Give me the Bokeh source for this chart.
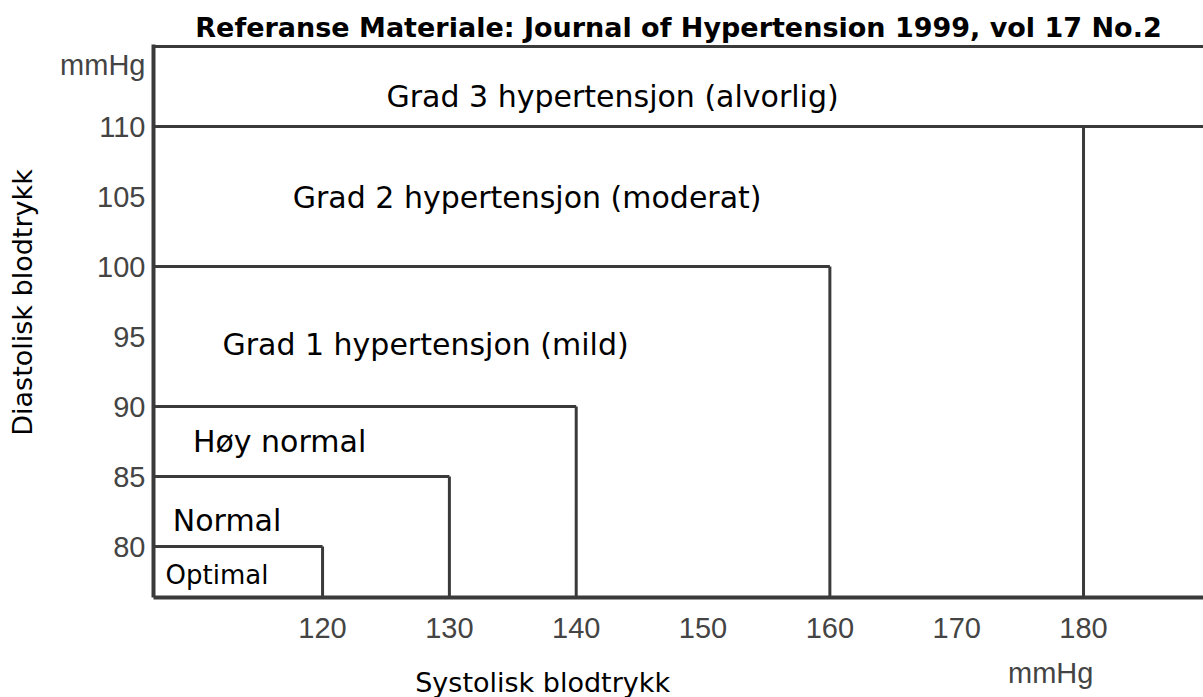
import math
from bokeh.plotting import figure
from bokeh.layouts import column, row
from bokeh.models import ColumnDataSource, FixedTicker, Span, Range1d
from bokeh.core.properties import value
from bokeh.embed import file_html
from bokeh.resources import INLINE

# ---------------- data ----------------
title_text = "Referanse Materiale: Journal of Hypertension 1999, vol 17 No.2"
categories = ["Optimal", "Normal", "Høy normal",
              "Grad 1 hypertensjon (mild)",
              "Grad 2 hypertensjon (moderat)",
              "Grad 3 hypertensjon (alvorlig)"]
systolic_upper = [120, 130, 140, 160, 180]
diastolic_upper = [80, 85, 90, 100, 110]
x_ticks = [120, 130, 140, 150, 160, 170, 180]
y_ticks = [80, 85, 90, 95, 100, 105, 110]
x_label = "Systolisk blodtrykk"
y_label = "Diastolisk blodtrykk"
unit = "mmHg"

# ---------------- layout ----------------
W, H = 1203, 697
LEFT_STRIP = 44
BOTTOM_STRIP = 45
FRAME_LEFT, FRAME_TOP, FRAME_BOTTOM = 153, 44, 597
X0, X1 = 106.67, 189.46
Y0, Y1 = 76.36, 115.857
TOP_BORDER = 115.714
label_x = [111.68, 112.47, 116.61, 128.12, 136.13, 142.87]
label_y = [78.0, 81.86, 87.5, 94.43, 104.93, 112.14]
label_size = ["26px", "30px", "30px", "30px", "30px", "30px"]
UNIT_TICK = 114.36
XLABEL_POS = (137.35, 682)
XUNIT_POS = (177.41, 672)
YLABEL_POS = (22, 97.43)
LINE = "#3a3a3a"
TICK_COLOR = "#444444"
COMIC = "DejaVu Sans"


def clean(fig):
    fig.outline_line_color = None
    fig.background_fill_color = "white"
    fig.border_fill_color = "white"
    fig.xgrid.visible = False
    fig.ygrid.visible = False


x_range = Range1d(X0, X1)
y_range = Range1d(Y0, Y1)

p = figure(width=W - LEFT_STRIP, height=H - BOTTOM_STRIP, output_backend="svg",
           toolbar_location=None, x_range=x_range, y_range=y_range,
           min_border_left=FRAME_LEFT - LEFT_STRIP, min_border_right=0,
           min_border_top=FRAME_TOP, min_border_bottom=H - BOTTOM_STRIP - FRAME_BOTTOM)
clean(p)

p.title.text = title_text
p.title.text_font = COMIC
p.title.text_font_style = "bold"
p.title.text_font_size = "27px"
p.title.align = "center"
p.title.text_color = "black"
p.title.standoff = 4

# axes
xa = p.xaxis[0]
xa.ticker = FixedTicker(ticks=x_ticks)
xa.axis_line_width = 4
xa.axis_line_color = LINE
xa.major_tick_line_color = None
xa.minor_tick_line_color = None
xa.major_label_text_font = "Liberation Sans"
xa.major_label_text_font_size = "29px"
xa.major_label_text_color = TICK_COLOR
xa.major_label_standoff = 14

ya = p.yaxis[0]
ya.ticker = FixedTicker(ticks=y_ticks + [UNIT_TICK])
ya.major_label_overrides = {UNIT_TICK: unit}
ya.axis_line_width = 4
ya.axis_line_color = LINE
ya.major_tick_line_color = None
ya.minor_tick_line_color = None
ya.major_label_text_font = "Liberation Sans"
ya.major_label_text_font_size = "29px"
ya.major_label_text_color = TICK_COLOR
ya.major_label_standoff = 2

# top border of the frame
p.add_layout(Span(location=TOP_BORDER, dimension="width", line_color=LINE, line_width=3))

# category boundaries
hx1 = systolic_upper[:-1] + [X1]
seg_h = ColumnDataSource(dict(x0=[X0] * len(diastolic_upper), x1=hx1,
                              y0=diastolic_upper, y1=diastolic_upper))
seg_v = ColumnDataSource(dict(x0=systolic_upper, x1=systolic_upper,
                              y0=[Y0] * len(systolic_upper), y1=diastolic_upper))
p.segment("x0", "y0", "x1", "y1", source=seg_h, line_color=LINE, line_width=3)
p.segment("x0", "y0", "x1", "y1", source=seg_v, line_color=LINE, line_width=3)

# category labels
lab = ColumnDataSource(dict(x=label_x, y=label_y, text=categories, size=label_size))
p.text("x", "y", text="text", source=lab, text_font=value(COMIC),
       text_font_size="size", text_align="center", text_baseline="middle",
       text_color="black")

# left strip: y-axis title
left = figure(width=LEFT_STRIP, height=H - BOTTOM_STRIP, output_backend="svg",
              toolbar_location=None, x_range=Range1d(0, LEFT_STRIP), y_range=y_range,
              min_border_left=0, min_border_right=0, min_border_top=FRAME_TOP,
              min_border_bottom=H - BOTTOM_STRIP - FRAME_BOTTOM,
              x_axis_location=None, y_axis_location=None)
clean(left)
left.text(x=[YLABEL_POS[0]], y=[YLABEL_POS[1]], text=[y_label], angle=math.pi / 2,
          text_font=value(COMIC), text_font_size="27px", text_align="center",
          text_baseline="middle", text_color="black")

# bottom strip: x-axis title and unit
bottom = figure(width=W, height=BOTTOM_STRIP, output_backend="svg",
                toolbar_location=None, x_range=x_range,
                y_range=Range1d(H, H - BOTTOM_STRIP),
                min_border_left=FRAME_LEFT, min_border_right=0, min_border_top=0,
                min_border_bottom=0, x_axis_location=None, y_axis_location=None)
clean(bottom)
bottom.text(x=[XLABEL_POS[0]], y=[XLABEL_POS[1]], text=[x_label],
            text_font=value(COMIC), text_font_size="27px", text_align="center",
            text_baseline="middle", text_color="black")
bottom.text(x=[XUNIT_POS[0]], y=[XUNIT_POS[1]], text=[unit],
            text_font=value("Liberation Sans"), text_font_size="29px",
            text_align="center", text_baseline="middle", text_color=TICK_COLOR)

layout = column(row(left, p, spacing=0), bottom, spacing=0)
open("out.html", "w").write(file_html(layout, INLINE))
